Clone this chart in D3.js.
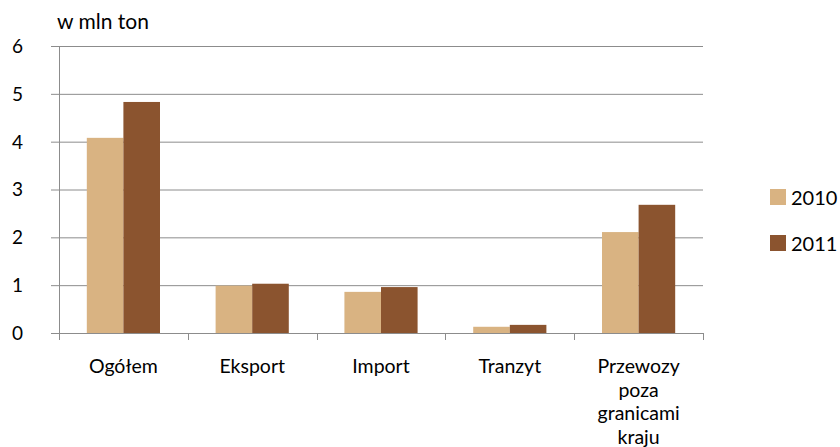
<!DOCTYPE html>
<html><head><meta charset="utf-8">
<script src="https://cdn.jsdelivr.net/npm/d3@7"></script>
<style>body{margin:0;background:#fff}svg text{font-family:Lato,"Open Sans",sans-serif;fill:#000}</style>
</head><body><svg id="c" width="840" height="447"></svg>
<script>
const categories = [["Ogółem"],["Eksport"],["Import"],["Tranzyt"],["Przewozy","poza","granicami","kraju"]];
const seriesNames = ["2010","2011"];
const values2010 = [4.08, 0.99, 0.86, 0.13, 2.11];
const values2011 = [4.83, 1.03, 0.96, 0.17, 2.68];
const yTicks = [0,1,2,3,4,5,6];
const colors = ["#D9B382","#8B542F"];
const unitLabel = "w mln ton";

const svg = d3.select("#c");
const m = {l:59, r:703, t:46, b:333};
const x = d3.scaleBand().domain(d3.range(categories.length)).range([m.l, m.r]).paddingInner(0).paddingOuter(0);
const y = d3.scaleLinear().domain([0,6]).range([m.b, m.t]);
const inner = d3.scaleBand().domain([0,1]).range([0, x.bandwidth()]).paddingOuter(0.76).paddingInner(0);

// gridlines
svg.append("g").selectAll("line").data(yTicks).join("line")
  .attr("x1", m.l-8).attr("x2", m.r).attr("y1", d=>y(d)+0.5).attr("y2", d=>y(d)+0.5)
  .attr("stroke", "#8c8c8c").attr("stroke-width", 1);
// y labels
svg.append("g").selectAll("text").data(yTicks).join("text")
  .attr("x", 23).attr("y", d=>y(d)).attr("dy","0.36em").attr("text-anchor","end")
  .style("font-size","19px").text(d=>d);
// bars
const series = [values2010, values2011];
series.forEach((vals, si) => {
  svg.append("g").selectAll("rect").data(vals).join("rect")
    .attr("x", (d,i)=>x(i)+inner(si)).attr("width", inner.bandwidth())
    .attr("y", d=>y(d)).attr("height", d=>y(0)-y(d)).attr("fill", colors[si]);
});
// axes lines
svg.append("line").attr("x1", m.l+0.5).attr("x2", m.l+0.5).attr("y1", m.t).attr("y2", m.b+7).attr("stroke","#8c8c8c");
svg.append("line").attr("x1", m.l).attr("x2", m.r).attr("y1", m.b+0.5).attr("y2", m.b+0.5).attr("stroke","#8c8c8c");
const bounds = d3.range(categories.length+1).map(i => i<categories.length ? x(i) : m.r);
svg.append("g").selectAll("line").data(bounds).join("line")
  .attr("x1", d=>Math.round(d)+0.5).attr("x2", d=>Math.round(d)+0.5).attr("y1", m.b).attr("y2", m.b+7).attr("stroke","#8c8c8c");
// category labels
categories.forEach((lines,i) => {
  const t = svg.append("text").attr("x", x(i)+x.bandwidth()/2).attr("y", 373).attr("text-anchor","middle").style("font-size","19.5px");
  lines.forEach((ln,j) => t.append("tspan").attr("x", x(i)+x.bandwidth()/2).attr("y", 373 + j*23.5).text(ln));
});
// unit label
svg.append("text").attr("x", 57).attr("y", 29).style("font-size","21px").text(unitLabel);
// legend
const lg = svg.append("g");
seriesNames.forEach((s,i) => {
  lg.append("rect").attr("x", 770).attr("y", 189 + i*46).attr("width", 16).attr("height", 16).attr("fill", colors[i]);
  lg.append("text").attr("x", 791).attr("y", 205 + i*46).style("font-size","20px").text(s);
});
</script></body></html>
